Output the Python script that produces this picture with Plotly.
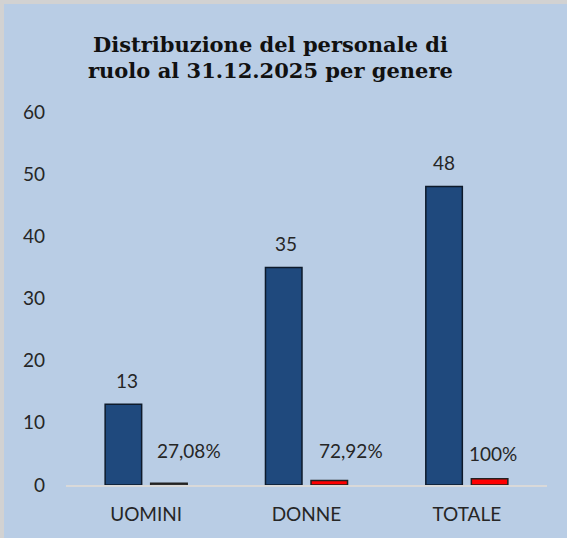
import plotly.graph_objects as go

# Staff on permanent roll at 31.12.2025, by gender
categories = ["UOMINI", "DONNE", "TOTALE"]
headcount = [13, 35, 48]
share_pct = [27.08, 72.92, 100.0]
share_labels = ["27,08%", "72,92%", "100%"]

y_ticks = [0, 10, 20, 30, 40, 50, 60]
title_lines = ["Distribuzione del personale di", "ruolo al 31.12.2025 per genere"]

BG = "#b9cde5"
FRAME = "#d2d2d2"
BLUE = "#1f497d"
RED = "#ff0000"
LABEL_FONT = dict(family="Lato, Open Sans, sans-serif", size=19, color="#262626")
TITLE_FONT = dict(family="DejaVu Serif, Liberation Serif, serif", size=21, color="#111111")

W, H = 567, 538
ML, MR, MT, MB = 66, 20, 112, 53
plot_w = W - ML - MR
plot_h = H - MT - MB


def px_x(p):
    """page pixel column -> paper x"""
    return (p - ML) / plot_w


def px_y(p):
    """page pixel row -> paper y"""
    return (H - MB - p) / plot_h


# share bars sit on the same axis as the headcount (fraction of 1)
share_frac = [p / 100 for p in share_pct]

fig = go.Figure()
fig.add_trace(go.Bar(
    x=categories, y=headcount, name="Personale",
    marker=dict(color=BLUE, line=dict(color="#0d1a2b", width=1.5)),
))
fig.add_trace(go.Bar(
    x=categories, y=share_frac, name="Percentuale",
    marker=dict(color=["#5a5a5a", RED, RED], line=dict(color="#222222", width=1.5)),
))

# value labels above the bars
bargap, bargroupgap = 0.432, 0.198
slot_px = plot_w / len(categories) * (1 - bargap) / 2
count_dx = [4, 2, 0]
share_dx = [20, 22, 3]
share_dy = [33, 30, 25]
for i, cat in enumerate(categories):
    fig.add_annotation(
        x=cat, y=headcount[i], xref="x", yref="y", text=str(headcount[i]),
        showarrow=False, font=LABEL_FONT, xshift=-slot_px / 2 + count_dx[i],
        yshift=24, yanchor="middle",
    )
    fig.add_annotation(
        x=cat, y=share_frac[i], xref="x", yref="y", text=share_labels[i],
        showarrow=False, font=LABEL_FONT, xshift=slot_px / 2 + share_dx[i],
        yshift=share_dy[i], yanchor="middle",
    )

# two-line title with tight leading
for line, row in zip(title_lines, [44, 71]):
    fig.add_annotation(
        x=px_x(270), y=px_y(row), xref="paper", yref="paper",
        text=f"<b>{line}</b>", showarrow=False, font=TITLE_FONT,
        xanchor="center", yanchor="middle",
    )

# light-blue panel with a thin grey frame along the top and left edges
fr = 4
fig.add_shape(
    type="rect", xref="paper", yref="paper", layer="below",
    x0=px_x(fr), x1=px_x(W + 5), y0=px_y(H + 5), y1=px_y(fr),
    fillcolor=BG, line=dict(width=0),
)

fig.update_layout(
    width=W, height=H,
    margin=dict(l=ML, r=MR, t=MT, b=MB, pad=0, autoexpand=False),
    paper_bgcolor=FRAME, plot_bgcolor="rgba(0,0,0,0)",
    barmode="group", bargap=bargap, bargroupgap=bargroupgap,
    showlegend=False,
    xaxis=dict(
        showgrid=False, showline=True, linecolor="#d9d9d9", linewidth=2,
        ticks="", tickfont=LABEL_FONT, ticklabelstandoff=11, automargin=False,
    ),
    yaxis=dict(
        range=[0, 60], tickvals=y_ticks, showgrid=False, zeroline=False,
        showline=False, ticks="", tickfont=LABEL_FONT, ticklabelstandoff=20,
        automargin=False,
    ),
)

fig.write_html("out.html")
